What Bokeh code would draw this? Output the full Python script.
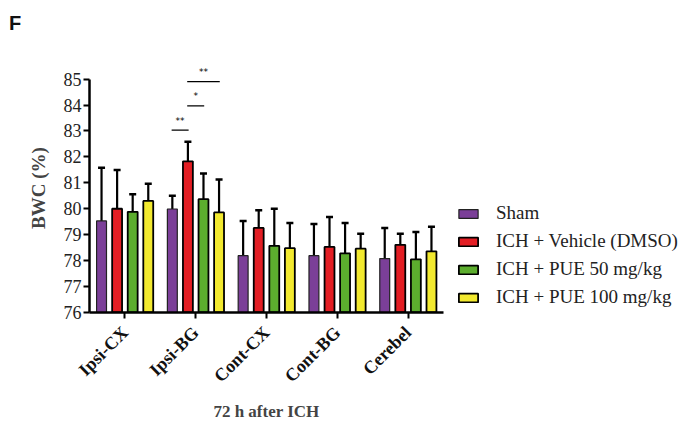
from bokeh.plotting import figure
from bokeh.models import ColumnDataSource, FactorRange, FixedTicker, Legend, LegendItem, Div
from bokeh.layouts import column
from bokeh.transform import dodge
from bokeh.embed import file_html
from bokeh.resources import INLINE
from bokeh.core.properties import value
import math

regions = ["Ipsi-CX", "Ipsi-BG", "Cont-CX", "Cont-BG", "Cerebel"]
groups = ["Sham", "ICH + Vehicle (DMSO)", "ICH + PUE 50 mg/kg", "ICH + PUE 100 mg/kg"]
colors = ["#7B3F98", "#E31E24", "#5CAD2E", "#F2E92F"]

sham_mean = [79.53, 79.99, 78.19, 78.19, 78.08]
sham_upper = [81.58, 80.50, 79.53, 79.41, 79.26]
vehicle_mean = [80.00, 81.83, 79.26, 78.53, 78.61]
vehicle_upper = [81.49, 82.58, 79.94, 79.68, 79.04]
pue50_mean = [79.88, 80.37, 78.57, 78.28, 78.05]
pue50_upper = [80.56, 81.36, 80.00, 79.45, 79.10]
pue100_mean = [80.30, 79.86, 78.48, 78.46, 78.36]
pue100_upper = [80.96, 81.13, 79.45, 79.04, 79.31]

# significance brackets (Ipsi-BG): from group index to group index, height, label
sig_from = [0, 1, 1]
sig_to = [1, 2, 3]
sig_y = [83.03, 83.97, 84.90]
sig_text = ["**", "*", "**"]

offsets = [-0.33, -0.11, 0.11, 0.33]
bar_w = 0.14

p = figure(x_range=FactorRange(*regions, range_padding=0), y_range=(76, 85.6),
           frame_width=354, frame_height=249, output_backend="svg", toolbar_location=None,
           min_border_left=89, min_border_right=234, min_border_top=23, min_border_bottom=97)
p.outline_line_color = None
p.grid.visible = False
p.background_fill_color = "white"

serif = "Liberation Serif"

src = ColumnDataSource(dict(region=regions,
                            m0=sham_mean, u0=sham_upper,
                            m1=vehicle_mean, u1=vehicle_upper,
                            m2=pue50_mean, u2=pue50_upper,
                            m3=pue100_mean, u3=pue100_upper))

renderers = []
for i in range(4):
    xd = dodge("region", offsets[i], range=p.x_range)
    p.segment(x0=xd, y0=f"m{i}", x1=xd, y1=f"u{i}", source=src, line_color="black", line_width=2.2)
    p.scatter(x=xd, y=f"u{i}", source=src, marker="dash", size=7, line_color="black", line_width=2.5)
    r = p.vbar(x=xd, top=f"m{i}", bottom=76, width=bar_w, source=src,
               fill_color=colors[i], line_color="#222222" if i == 0 else "black",
               line_width=1.2 if i == 0 else 1.8)
    renderers.append(r)

# significance marks
for k in range(3):
    a, b = sig_from[k], sig_to[k]
    s = ColumnDataSource(dict(r=["Ipsi-BG"], y=[sig_y[k]], ty=[sig_y[k] + 0.36], t=[sig_text[k]]))
    p.segment(x0=dodge("r", offsets[a] - 0.01, range=p.x_range), y0="y",
              x1=dodge("r", offsets[b] + 0.01, range=p.x_range), y1="y",
              source=s, line_color="black", line_width=1.3)
    p.text(x=dodge("r", (offsets[a] + offsets[b]) / 2, range=p.x_range), y="ty", text="t", source=s,
           text_align="center", text_baseline="middle", text_font_size="9px",
           text_font=value("DejaVu Sans"), text_color="black")

# axes
for ax in (p.xaxis[0], p.yaxis[0]):
    ax.axis_line_width = 2.5
    ax.axis_line_color = "black"
    ax.major_tick_line_width = 2
    ax.major_tick_line_color = "black"
    ax.minor_tick_line_color = None
    ax.major_tick_in = 0
    ax.major_tick_out = 6

p.yaxis.bounds = (76, 85)
p.yaxis.ticker = FixedTicker(ticks=list(range(76, 86)))
p.yaxis.major_label_text_font = serif
p.yaxis.major_label_text_font_size = "18px"
p.yaxis.major_label_text_color = "#222222"
p.yaxis.major_label_standoff = 2
p.yaxis.axis_label = "BWC (%)"
p.yaxis.axis_label_text_font = serif
p.yaxis.axis_label_text_font_style = "bold"
p.yaxis.axis_label_text_font_size = "19px"
p.yaxis.axis_label_standoff = 12

p.xaxis.major_label_orientation = math.pi / 4
p.xaxis.major_label_text_font = serif
p.xaxis.major_label_text_font_style = "bold"
p.xaxis.major_label_text_font_size = "18px"
p.xaxis.major_label_text_color = "#111111"
p.xaxis.major_label_standoff = 11
p.xaxis.axis_label = "72 h after ICH"
p.xaxis.axis_label_text_font = serif
p.xaxis.axis_label_text_font_style = "bold"
p.xaxis.axis_label_text_font_size = "17px"
p.xaxis.axis_label_standoff = 6

legend = Legend(items=[LegendItem(label=groups[i], renderers=[renderers[i]]) for i in range(4)],
                location=(13, 4), orientation="vertical",
                glyph_width=24, glyph_height=11, label_height=20, spacing=6,
                label_standoff=16, padding=0, margin=0,
                label_text_font=serif, label_text_font_size="19px", label_text_color="#222222",
                border_line_color=None, background_fill_alpha=0)
p.add_layout(legend, "right")

panel_letter = Div(text="F", width=100, height=30,
                   styles={"font-family": "Liberation Sans", "font-weight": "bold",
                           "font-size": "20px", "line-height": "20px",
                           "padding-top": "8px", "padding-left": "4px", "color": "#111111"})

layout = column(panel_letter, p, spacing=0)

open("out.html", "w").write(file_html(layout, INLINE))
